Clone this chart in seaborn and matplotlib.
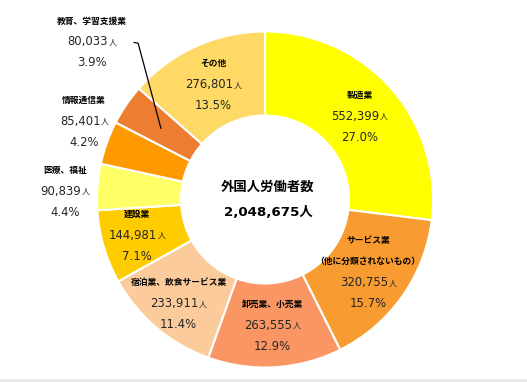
import numpy as np
import seaborn as sns
import matplotlib.pyplot as plt
from matplotlib.patches import Rectangle

# 産業別 外国人労働者数
industries = [
    "製造業",
    "サービス業\n（他に分類されないもの）",
    "卸売業、小売業",
    "宿泊業、飲食サービス業",
    "建設業",
    "医療、福祉",
    "情報通信業",
    "教育、学習支援業",
    "その他",
]
workers = [552399, 320755, 263555, 233911, 144981, 90839, 85401, 80033, 276801]
shares = [27.0, 15.7, 12.9, 11.4, 7.1, 4.4, 4.2, 3.9, 13.5]
colors = ["#FFFF00", "#F89B31", "#FA9664", "#FCCB9B", "#FFCC00",
          "#FFFF66", "#FF9900", "#ED7D31", "#FFD966"]
center_title = "外国人労働者数"
total_workers = 2048675

# 外側に置くラベル (pie半径=1 の座標)
outside_pos = {5: (-1.19, 0.05), 6: (-1.077, 0.467), 7: (-1.03, 0.9375)}
# 内側ラベルの微調整 (ピクセル)
nudge = {3: (-5, -8), 4: (-7, 0)}


def set_config():
    sns.set_theme(style="white")
    plt.rcParams["font.family"] = ["DejaVu Sans", "Noto Sans CJK JP"]


def put_label(ax, x, y, title, value, pct, dx=0, dy=0):
    lines = title.split("\n")
    n = len(lines) + 2
    step = 21
    offsets = [(i - (n - 1) / 2) * step - dy for i in range(n)]
    for line, off in zip(lines, offsets):
        ax.annotate(line, xy=(x, y), xytext=(dx, -off), textcoords="offset pixels",
                    ha="center", va="center", fontsize=6.3, fontweight="bold",
                    color="black")
    num = ax.annotate(f"{value:,}", xy=(x, y), xytext=(dx - 4, -offsets[-2]),
                      textcoords="offset pixels", ha="center", va="center",
                      fontsize=8.4, color="#262626")
    ax.annotate("人", xy=(1, 0), xycoords=num, xytext=(0.5, 1.5),
                textcoords="offset pixels", ha="left", va="bottom",
                fontsize=5.8, color="#262626")
    ax.annotate(f"{pct:.1f}%", xy=(x, y), xytext=(dx, -offsets[-1]),
                textcoords="offset pixels", ha="center", va="center",
                fontsize=8.4, color="#262626")


def main():
    set_config()
    fig = plt.figure(figsize=(5.27, 3.82), dpi=100)
    ax = fig.add_axes([0, 0, 1, 1])

    wedges, _ = ax.pie(workers, colors=colors, startangle=90, counterclock=False,
                       radius=1, wedgeprops=dict(width=0.5, edgecolor="white",
                                                 linewidth=1.5))

    for i, w in enumerate(wedges):
        mid = np.deg2rad((w.theta1 + w.theta2) / 2)
        mx, my = 0.75 * np.cos(mid), 0.75 * np.sin(mid)
        if i in outside_pos:
            lx, ly = outside_pos[i]
        else:
            lx, ly = mx, my
        dx, dy = nudge.get(i, (0, 0))
        put_label(ax, lx, ly, industries[i], workers[i], shares[i], dx, dy)
        if i == 7:
            ax.plot([-0.78, -0.755, mx], [0.935, 0.93, my], color="black", lw=0.9)

    ax.annotate(center_title, xy=(0, 0), xytext=(3, 12), textcoords="offset pixels",
                ha="center", va="center", fontsize=9.6, fontweight="bold", color="black")
    ax.annotate(f"{total_workers:,}人", xy=(0, 0), xytext=(3, -13),
                textcoords="offset pixels", ha="center", va="center", fontsize=9.6,
                fontweight="bold", color="black")

    ax.set_xlim(-265 / 168, 262 / 168)
    ax.set_ylim(-182.5 / 168, 199.5 / 168)
    ax.set_aspect("equal")
    ax.axis("off")

    fig.add_artist(Rectangle((0, 0), 1, 3 / 382, transform=fig.transFigure,
                             color="#EBEBEB", lw=0))
    fig.savefig("out.png", dpi=100)


if __name__ == "__main__":
    main()
